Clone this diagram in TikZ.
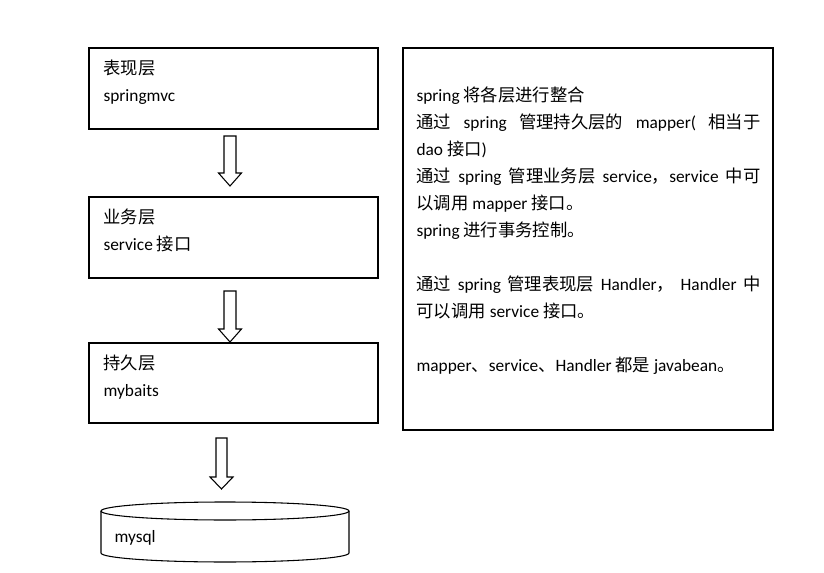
\documentclass[tikz,border=0pt]{standalone}
\usepackage{fontspec}
\setmainfont{Carlito}
\newfontfamily\cjk{Noto Sans CJK SC}
\tikzset{
  txt/.style={anchor=base west, inner sep=0pt, font=\fontsize{13pt}{16pt}\selectfont},
  wide/.style={txt, text width=258pt}
}
\begin{document}
\begin{tikzpicture}[x=0.75pt, y=-0.75pt, line width=0.8pt, color = {black}]
    \useasboundingbox (0,0) rectangle (824,573);
    % the three layers
    \draw (89,48) rectangle (378,129);
    \node[txt] (view) at (103,75) {\cjk 表现层};
    \node[txt] (viewsub) at (103,102) {springmvc};
    \draw (89,197) rectangle (378,278);
    \node[txt] (service) at (103,224) {\cjk 业务层};
    \node[txt] (servicesub) at (103,251) {service {\cjk 接口}};
    \draw (89,343) rectangle (378,423);
    \node[txt] (dao) at (103,369) {\cjk 持久层};
    \node[txt] (daosub) at (103,396) {mybaits};
    % hollow arrows
    \draw (224,136) -- (236,136) -- (236,173) -- (241.5,173) -- (230,186) -- (218.5,173) -- (224,173) -- cycle;
    \draw (224,291) -- (236,291) -- (236,329) -- (241.5,329) -- (230,342) -- (218.5,329) -- (224,329) -- cycle;
    \draw (216,438) -- (227,438) -- (227,477) -- (233,477) -- (221.5,489) -- (210,477) -- (216,477) -- cycle;
    % database
    \draw (225,511) ellipse [x radius=124, y radius=9];
    \draw (101,511) -- (101,553) arc [start angle=180, end angle=0, x radius=124, y radius=9] -- (349,511);
    \node[txt] (db) at (114,542) {mysql};
    % notes on the right
    \draw (403,48) rectangle (773,430);
    \node[txt] (n1) at (416,102) {spring {\cjk 将各层进行整合}};
    \node[txt] (n2) at (416,129) {\makebox[258pt][s]{{\cjk 通过} spring {\cjk 管理持久层的} mapper( {\cjk 相当于}}};
    \node[txt] (n3) at (416,156) {dao {\cjk 接口})};
    \node[txt] (n4) at (416,183) {\makebox[258pt][s]{{\cjk 通过} spring {\cjk 管理业务层} service{\cjk ，}service {\cjk 中可}}};
    \node[txt] (n5) at (416,210) {{\cjk 以调用} mapper {\cjk 接口。}};
    \node[txt] (n6) at (416,237) {spring {\cjk 进行事务控制。}};
    \node[txt] (n7) at (416,291) {\makebox[258pt][s]{{\cjk 通过} spring {\cjk 管理表现层} Handler{\cjk ，} Handler {\cjk 中}}};
    \node[txt] (n8) at (416,318) {{\cjk 可以调用} service {\cjk 接口。}};
    \node[txt] (n9) at (416,372) {mapper{\cjk 、}service{\cjk 、}Handler {\cjk 都是} javabean{\cjk 。}};
\end{tikzpicture}
\end{document}
